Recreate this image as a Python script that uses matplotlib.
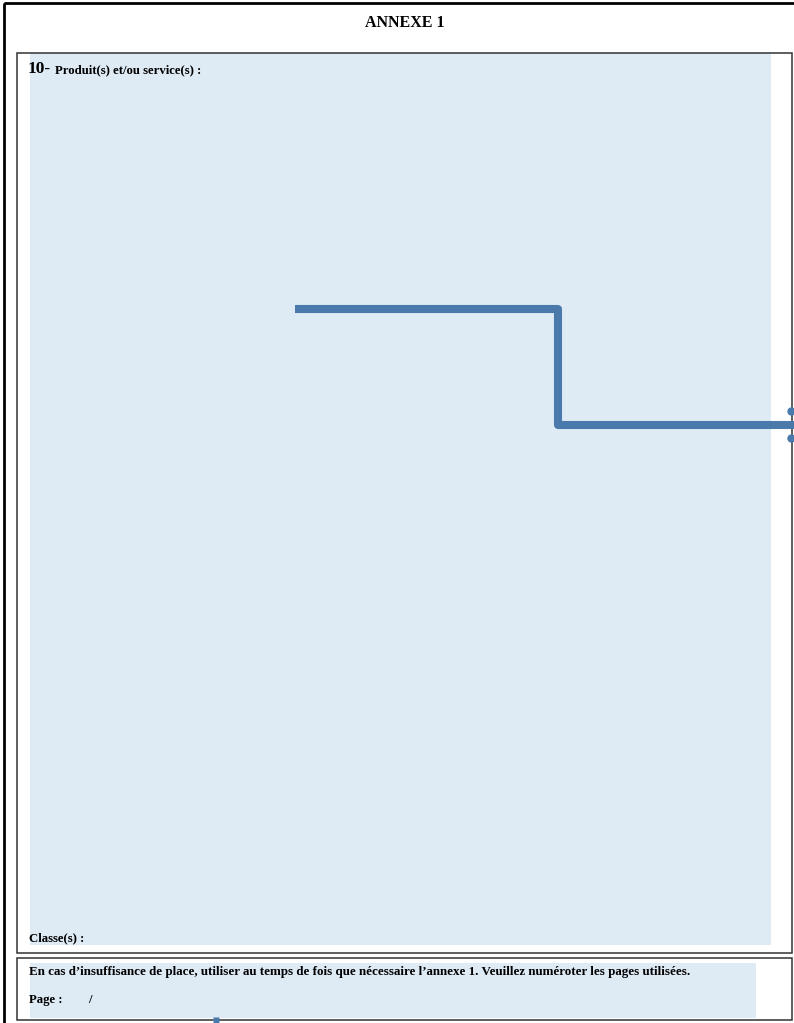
import matplotlib
matplotlib.use("Agg")
import matplotlib.pyplot as plt
from matplotlib.patches import Rectangle

# 页面文字
title = "ANNEXE 1"
section_num = "10-"
section_label = "Produit(s) et/ou service(s) :"
class_label = "Classe(s) :"
note_text = "En cas d\u2019insuffisance de place, utiliser au temps de fois que nécessaire l\u2019annexe 1. Veuillez numéroter les pages utilisées."
page_label = "Page :"

# 阶梯线（页面像素坐标）
step_x = [295, 558, 558, 794]
step_y = [309, 309, 425, 425]
# 右侧端点和底部小方块
handle_x = [791, 791]
handle_y = [411, 438]
marker_x = [216]
marker_y = [1020]

W, H = 794, 1023
blue = "#4a7aab"
fill = "#deeaf4"

fig = plt.figure(figsize=(W / 100, H / 100), dpi=100)
ax = fig.add_axes([0, 0, 1, 1])
ax.set_xlim(0, W)
ax.set_ylim(H, 0)
ax.axis("off")

# 背景填充先画
ax.add_patch(Rectangle((30, 53), 741, 892, fc=fill, ec="none"))
ax.add_patch(Rectangle((30, 963), 726, 55, fc=fill, ec="none"))
# 外框
ax.add_patch(Rectangle((4, 3), 800, 1030, fill=False, ec="black", lw=2.0))
# 第10节框、底部框
ax.add_patch(Rectangle((17, 53), 775, 900, fill=False, ec="#333333", lw=1.1))
ax.add_patch(Rectangle((17, 958), 775, 62, fill=False, ec="#333333", lw=1.1))

serif = ["Liberation Serif", "DejaVu Serif"]
ax.text(405, 23, title, ha="center", va="center", fontsize=11.5, fontweight="bold", family=serif)
ax.text(28, 69, section_num, ha="left", va="center", fontsize=12.5, fontweight="bold", family=serif)
ax.text(55, 70, section_label, ha="left", va="center", fontsize=9.2, fontweight="bold", family=serif)
ax.text(29, 938, class_label, ha="left", va="center", fontsize=9.2, fontweight="bold", family=serif)
ax.text(29, 972, note_text, ha="left", va="center", fontsize=9.35, fontweight="bold", family=serif)
ax.text(29, 1000, page_label, ha="left", va="center", fontsize=9.2, fontweight="bold", family=serif)
ax.text(88, 1000, "/", ha="left", va="center", fontsize=9.2, fontweight="bold", family=serif)

# 阶梯线
ax.plot(step_x, step_y, color=blue, lw=5.8, solid_joinstyle="round", solid_capstyle="butt")
ax.plot(handle_x, handle_y, "o", color=blue, ms=6, mec="none")
ax.plot(marker_x, marker_y, "s", color=blue, ms=5, mec="none")

fig.savefig("out.png", dpi=100)
